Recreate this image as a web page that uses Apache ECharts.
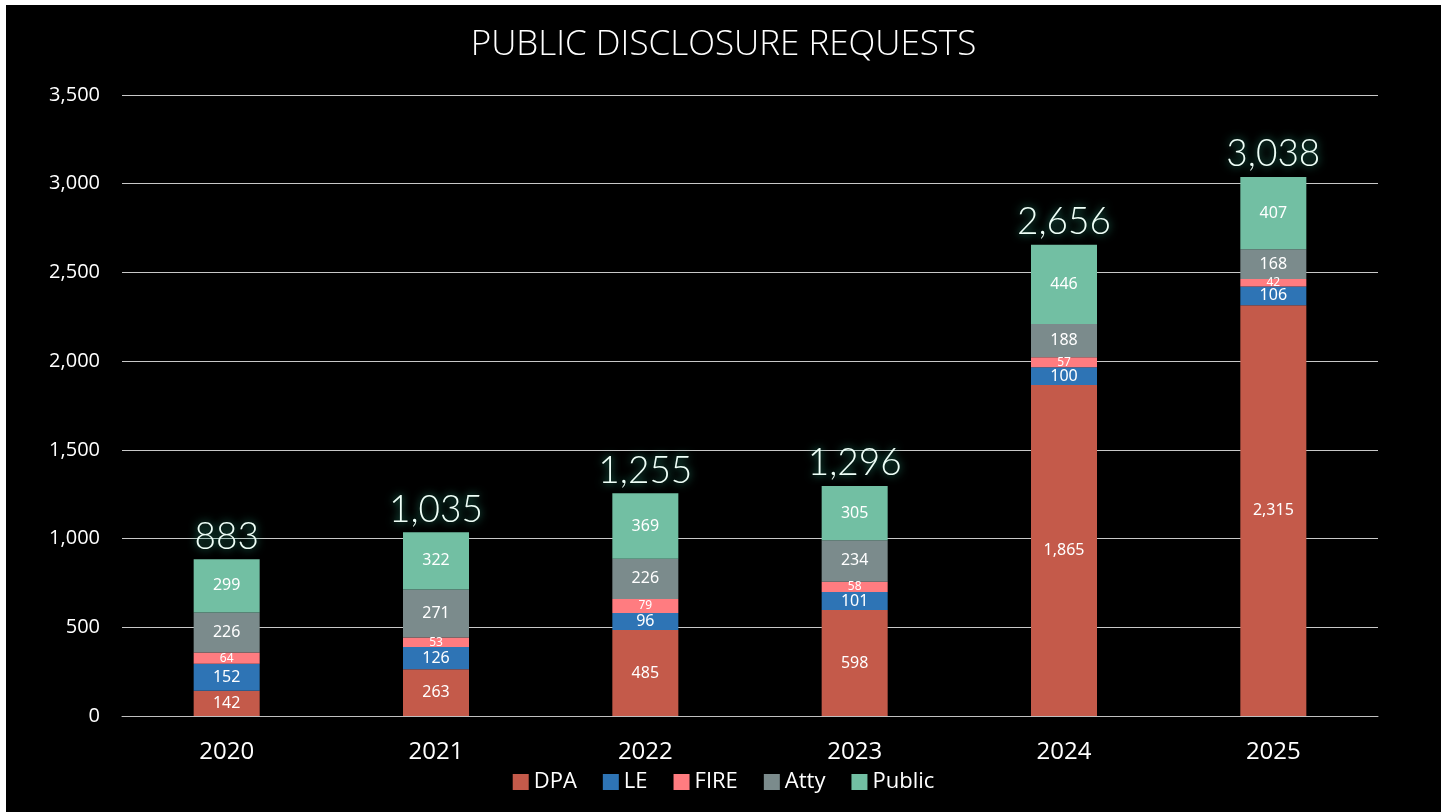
<!DOCTYPE html>
<html>
<head>
<meta charset="utf-8">
<script src="https://cdn.jsdelivr.net/npm/echarts@6/dist/echarts.min.js"></script>
<style>
html,body{margin:0;padding:0;background:#ffffff;width:1445px;height:812px;overflow:hidden;}
#chart{position:absolute;left:6px;top:5px;width:1435px;height:807px;background:#000;}
</style>
</head>
<body>
<div id="chart"></div>
<script>
const years = ['2020','2021','2022','2023','2024','2025'];
const dpa    = [142, 263, 485, 598, 1865, 2315];
const le     = [152, 126, 96, 101, 100, 106];
const fire   = [64, 53, 79, 58, 57, 42];
const atty   = [226, 271, 226, 234, 188, 168];
const pub    = [299, 322, 369, 305, 446, 407];
const totals = [883, 1035, 1255, 1296, 2656, 3038];

const colors = {DPA:'#C45A4A', LE:'#2E74B5', FIRE:'#FF7C80', Atty:'#7B8B8C', Public:'#72BFA3'};
const fmt = v => Number(v).toLocaleString('en-US');

function seg(name, data, fs){
  return {
    name: name, type:'bar', stack:'all', data: data, barWidth: 66,
    itemStyle:{color: colors[name]},
    label:{show:true, position:'inside', color:'#fff', fontSize: fs, fontFamily:'Noto Sans',
      formatter: p => fmt(p.value)}
  };
}

const chart = echarts.init(document.getElementById('chart'));
chart.setOption({
  backgroundColor:'#000',
  animation:false,
  title:{text:'PUBLIC DISCLOSURE REQUESTS', left:'center', top:18,
    textStyle:{color:'#fff', fontSize:35, fontWeight:300, fontFamily:'Open Sans'}},
  legend:{data:['DPA','LE','FIRE','Atty','Public'], bottom:14, left:'center',
    itemWidth:16, itemHeight:16, itemGap:26, icon:'rect',
    textStyle:{color:'#fff', fontSize:22, fontFamily:'Open Sans'}},
  grid:{left:116, right:63, top:90, bottom:96},
  xAxis:{type:'category', data:years,
    axisLine:{lineStyle:{color:'#bfbfbf'}}, axisTick:{show:false},
    axisLabel:{color:'#fff', fontSize:24, margin:24, fontFamily:'Open Sans'}},
  yAxis:{type:'value', min:0, max:3500, interval:500,
    axisLine:{show:false}, axisTick:{show:false},
    splitLine:{lineStyle:{color:'#c8c8c8', width:1}},
    axisLabel:{color:'#fff', fontSize:20, margin:22, fontFamily:'Open Sans',
      formatter: v => fmt(v)}},
  series:[
    seg('DPA', dpa, 16),
    seg('LE', le, 16),
    seg('FIRE', fire, 12),
    seg('Atty', atty, 16),
    seg('Public', pub, 16),
    {name:'Total', type:'bar', data: totals, barWidth:66, barGap:'-100%', z:1,
      itemStyle:{color:'rgba(0,0,0,0)'}, silent:true,
      label:{show:true, position:'top', distance:4,
        formatter: p => fmt(totals[p.dataIndex]),
        color:'#effff8', fontSize:37, fontWeight:300, fontFamily:'Lato',
        textShadowColor:'#2fae8c', textShadowBlur:8}}
  ]
});
</script>
</body>
</html>
